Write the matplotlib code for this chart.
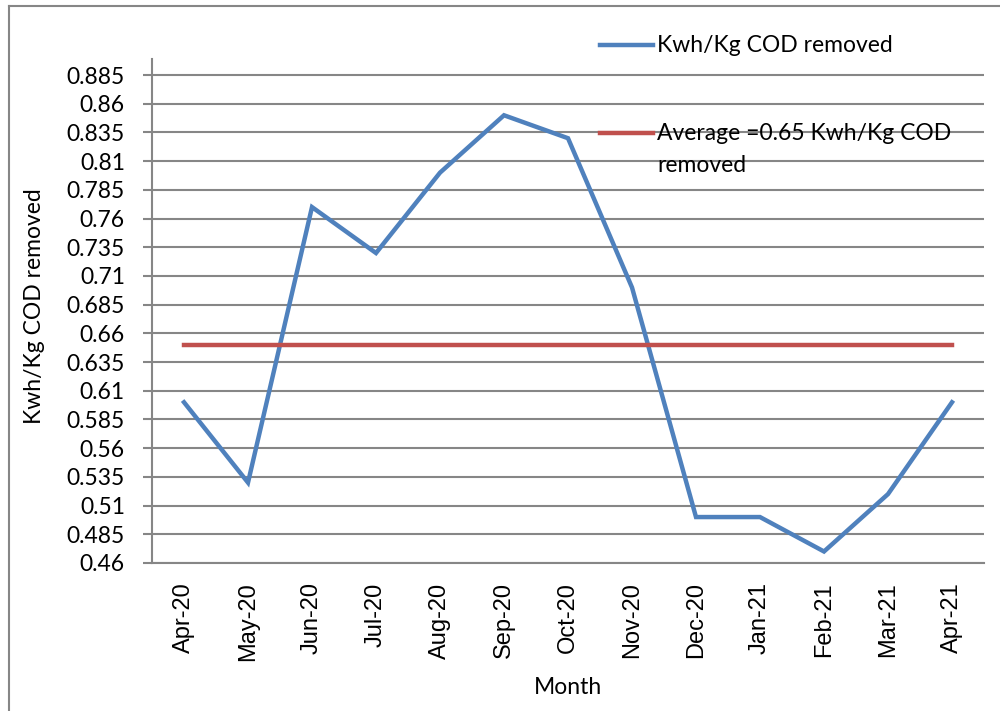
import numpy as np
import matplotlib
matplotlib.use("Agg")
import matplotlib.pyplot as plt
from matplotlib.lines import Line2D

# data
months = ['Apr-20', 'May-20', 'Jun-20', 'Jul-20', 'Aug-20', 'Sep-20', 'Oct-20',
          'Nov-20', 'Dec-20', 'Jan-21', 'Feb-21', 'Mar-21', 'Apr-21']
kwh_per_kg = [0.60, 0.53, 0.77, 0.73, 0.80, 0.85, 0.83, 0.70, 0.50, 0.50, 0.47, 0.52, 0.60]
average = 0.65
yticks = np.round(np.arange(0.46, 0.886, 0.025), 3)

blue = '#4F81BD'
red = '#C0504D'
grid = '#868686'
fs = 16.5

fig = plt.figure(figsize=(10, 7.11), dpi=100)
ax = fig.add_axes([0.152, 0.2082, 0.832, 0.7088])

x = np.arange(len(months))
ax.plot(x, kwh_per_kg, color=blue, lw=3.2, solid_joinstyle='miter', zorder=3)
ax.plot(x, [average] * len(months), color=red, lw=3.2, zorder=3)

ax.set_xlim(-0.5, len(months) - 0.5)
ax.set_ylim(0.46, 0.899)
ax.set_yticks(yticks)
ax.set_yticklabels(['%g' % v for v in yticks], family='Lato', fontsize=fs)
ax.set_xticks(x)
ax.set_xticklabels(months, rotation=90, family='Liberation Sans', fontsize=17)
ax.yaxis.grid(True, color=grid, lw=1.5)
ax.set_axisbelow(True)
ax.tick_params(axis='y', length=6.5, width=1.5, color=grid, pad=13)
ax.tick_params(axis='x', length=0, pad=14)
for s in ['top', 'right']:
    ax.spines[s].set_visible(False)
for s in ['left', 'bottom']:
    ax.spines[s].set_color(grid)
    ax.spines[s].set_linewidth(1.5)

ax.set_ylabel('Kwh/Kg COD removed', family='Lato', fontsize=fs, va='center')
ax.yaxis.set_label_coords(-0.141, 0.51)
ax.set_xlabel('Month', family='Lato', fontsize=fs, va='center')
ax.xaxis.set_label_coords(0.5, -0.248)

# legend drawn by hand so the red key sits on the first text line
fig.add_artist(Line2D([0.600, 0.653], [1 - 45 / 711] * 2, color=blue, lw=3.2))
fig.text(0.657, 1 - 45 / 711, 'Kwh/Kg COD removed', family='Lato', fontsize=fs, va='center')
fig.add_artist(Line2D([0.600, 0.653], [1 - 133 / 711] * 2, color=red, lw=3.2))
fig.text(0.657, 1 - 133 / 711, 'Average =0.65 Kwh/Kg COD', family='Lato', fontsize=fs, va='center')
fig.text(0.657, 1 - 165 / 711, 'removed', family='Lato', fontsize=fs, va='center')

# outer chart border (left and top visible)
fig.add_artist(Line2D([0.009, 0.009], [0.0, 1 - 6 / 711], color=grid, lw=1.5))
fig.add_artist(Line2D([0.009, 1.0], [1 - 6 / 711] * 2, color=grid, lw=1.5))

fig.savefig('out.png', dpi=100)
